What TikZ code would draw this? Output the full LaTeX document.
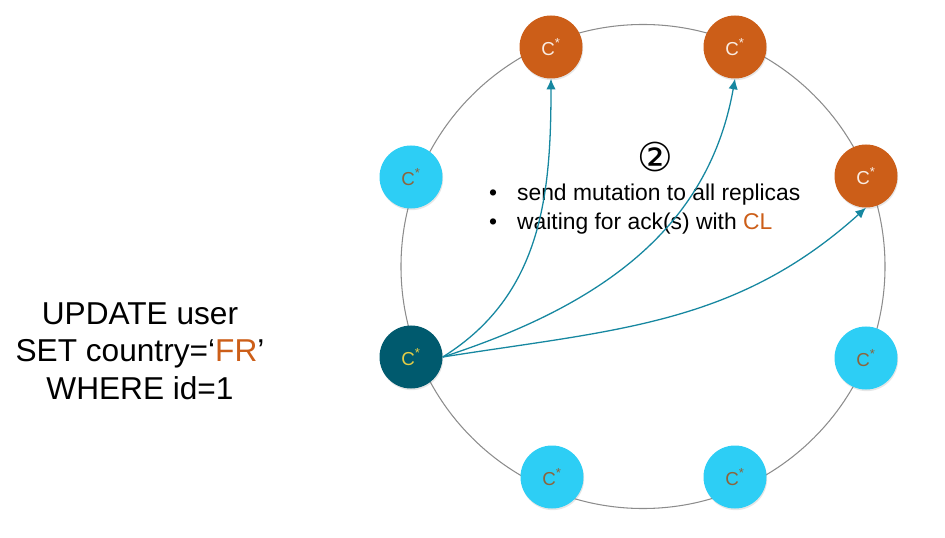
\documentclass[tikz,border=0pt]{standalone}
\usepackage{fontspec}
\setmainfont{Liberation Sans}
\newfontfamily\symfont{DejaVu Sans}
\usetikzlibrary{arrows.meta,shadows}
\definecolor{cassorange}{RGB}{204,94,24}
\definecolor{casscyan}{RGB}{45,206,245}
\definecolor{cassteal}{RGB}{0,90,110}
\definecolor{arrowteal}{RGB}{22,135,160}
\definecolor{cassbrown}{RGB}{140,100,60}
\definecolor{cassyellow}{RGB}{228,205,70}
\definecolor{ringgray}{RGB}{140,140,140}
\tikzset{replica/.style={circle,minimum size=1.89cm,inner sep=0pt,
  font=\fontsize{16}{16}\selectfont,
  drop shadow={opacity=0.2,shadow xshift=0.6pt,shadow yshift=-1.4pt}},
  target/.style={replica,fill=cassorange,text=white!88!cassorange},
  idle/.style={replica,fill=casscyan,text=cassbrown},
  coordinator/.style={replica,fill=cassteal,text=cassyellow},
  ring/.style={draw=ringgray,line width=0.9pt},
  flow/.style={-{Latex[length=9pt,width=8pt]},line width=1.1pt,draw=arrowteal},
  query/.style={align=center,inner sep=0pt,font=\fontsize{27}{32}\selectfont},
  notes/.style={align=left,inner sep=0pt,font=\fontsize{19.5}{24.7}\selectfont}}

\begin{document}
\begin{tikzpicture}[x=0.03cm,y=-0.03cm]
\useasboundingbox (0,0) rectangle (945,538);
\draw[ring] (643,266.5) circle[radius=7.26cm];
% the ring
\node[target] (repA) at (551,47) {C\textsuperscript{*}};
\node[target] (repB) at (735,47) {C\textsuperscript{*}};
\node[target] (repC) at (866,176) {C\textsuperscript{*}};
\node[idle] (nodeNW) at (411,177) {C\textsuperscript{*}};
\node[idle] (nodeE) at (866,358) {C\textsuperscript{*}};
\node[idle] (nodeSW) at (552,477) {C\textsuperscript{*}};
\node[idle] (nodeSE) at (735,477) {C\textsuperscript{*}};
\node[coordinator] (coord) at (411,357) {C\textsuperscript{*}};
% texts
\node[query] (query) at (140,351) {UPDATE user\\SET country=‘\textcolor{cassorange}{FR}’\\WHERE id=1};
\node[font=\fontsize{34}{34}\symfont,inner sep=0pt] (stepnum) at (655,157) {②};
\node[notes,anchor=west] (notes) at (489,209) {\textbullet\hspace{17pt}send mutation to all replicas\\
  \textbullet\hspace{17pt}waiting for ack(s) with \textcolor{cassorange}{CL}};
% writes to the replicas
\draw[flow] (coord.east) to[out=32,in=-90] (repA.south);
\draw[flow] (coord.east) to[out=18,in=-100] (repB.south);
\draw[flow] (coord.east) to[out=9,in=-138] (repC.south);
\end{tikzpicture}
\end{document}
